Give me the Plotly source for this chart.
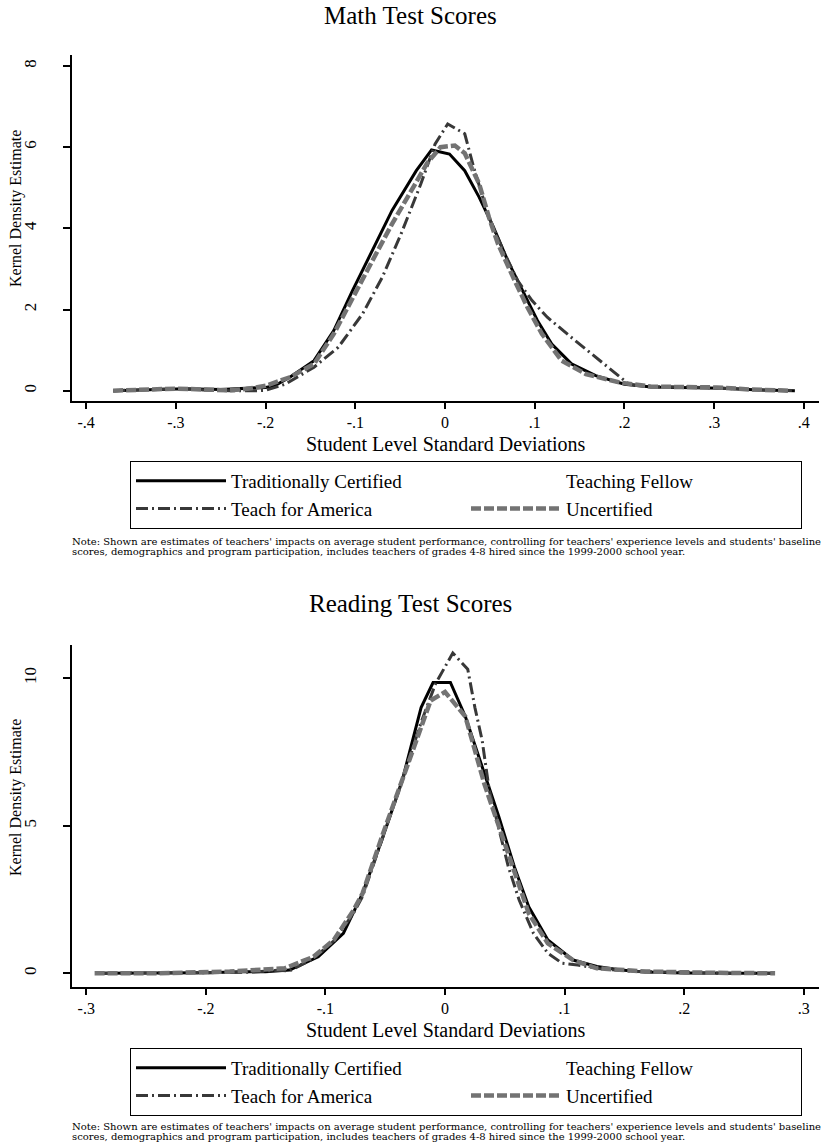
import plotly.graph_objects as go

W, H = 821, 1144
FONT = "Liberation Serif"

# ---------------- data ----------------
series_names = ["Traditionally Certified", "Teaching Fellow", "Teach for America", "Uncertified"]

math_x_trad = [-0.37, -0.33, -0.29, -0.25, -0.22, -0.2, -0.19, -0.173, -0.146, -0.124, -0.103, -0.081, -0.059,
               -0.032, -0.015, 0.005, 0.022, 0.038, 0.054, 0.07, 0.086, 0.103, 0.119, 0.141, 0.168, 0.2, 0.23,
               0.27, 0.31, 0.35, 0.39]
math_y_trad = [0.0, 0.03, 0.05, 0.03, 0.05, 0.08, 0.12, 0.33, 0.74, 1.48, 2.47, 3.45, 4.44,
               5.42, 5.93, 5.83, 5.42, 4.77, 4.03, 3.2, 2.47, 1.73, 1.15, 0.66, 0.37, 0.16, 0.09,
               0.08, 0.06, 0.02, 0.0]

math_x_tfa = [-0.37, -0.33, -0.3, -0.27, -0.24, -0.21, -0.2, -0.178, -0.146, -0.119, -0.092, -0.07, -0.049,
              -0.027, -0.011, 0.003, 0.022, 0.032, 0.049, 0.065, 0.081, 0.097, 0.114, 0.141, 0.168, 0.195,
              0.205, 0.232, 0.27, 0.31, 0.35, 0.39]
math_y_tfa = [0.0, 0.03, 0.05, 0.02, 0.0, 0.0, 0.01, 0.16, 0.58, 1.07, 1.89, 2.79, 3.86,
              5.09, 6.08, 6.57, 6.33, 5.5, 4.27, 3.45, 2.71, 2.22, 1.81, 1.31, 0.82, 0.33,
              0.16, 0.1, 0.09, 0.06, 0.02, 0.0]

math_x_unc = [-0.37, -0.34, -0.3, -0.27, -0.24, -0.222, -0.2, -0.173, -0.146, -0.124, -0.103, -0.081, -0.059,
              -0.038, -0.02, -0.005, 0.011, 0.022, 0.038, 0.049, 0.059, 0.076, 0.092, 0.108, 0.13, 0.157,
              0.195, 0.23, 0.27, 0.303, 0.34, 0.384]
math_y_unc = [0.0, 0.02, 0.05, 0.03, 0.01, 0.04, 0.12, 0.33, 0.66, 1.4, 2.3, 3.2, 4.11,
              4.93, 5.6, 6.0, 6.04, 5.85, 5.1, 4.27, 3.62, 2.79, 2.05, 1.4, 0.74, 0.41,
              0.2, 0.1, 0.09, 0.08, 0.03, 0.0]

read_x_trad = [-0.29, -0.25, -0.2, -0.17, -0.15, -0.13, -0.106, -0.085, -0.069, -0.053, -0.036, -0.02, -0.01,
               0.0045, 0.017, 0.033, 0.045, 0.058, 0.07, 0.086, 0.107, 0.127, 0.147, 0.168, 0.2, 0.24, 0.275]
read_y_trad = [0.0, 0.0, 0.02, 0.05, 0.05, 0.11, 0.56, 1.35, 2.7, 4.5, 6.5, 9.0, 9.85,
               9.85, 8.7, 6.76, 5.3, 3.6, 2.25, 1.13, 0.45, 0.23, 0.11, 0.04, 0.01, 0.0, 0.0]

read_x_tfa = [-0.29, -0.25, -0.2, -0.16, -0.14, -0.13, -0.11, -0.093, -0.077, -0.069, -0.053, -0.036, -0.02,
              -0.008, 0.0065, 0.019, 0.025, 0.031, 0.037, 0.045, 0.053, 0.062, 0.074, 0.086, 0.098, 0.111,
              0.13, 0.16, 0.2, 0.24, 0.275]
read_y_tfa = [0.0, 0.0, 0.02, 0.04, 0.1, 0.08, 0.5, 1.1, 2.0, 2.6, 4.5, 6.5, 8.5,
              9.8, 10.85, 10.3, 9.0, 7.9, 6.2, 4.85, 3.6, 2.48, 1.35, 0.68, 0.34, 0.28,
              0.15, 0.06, 0.02, 0.0, 0.0]

read_x_unc = [-0.293, -0.24, -0.18, -0.15, -0.134, -0.11, -0.093, -0.077, -0.069, -0.053, -0.036, -0.02,
              -0.012, 0.0, 0.017, 0.033, 0.045, 0.058, 0.07, 0.086, 0.107, 0.127, 0.168, 0.22, 0.276]
read_y_unc = [0.0, 0.0, 0.06, 0.11, 0.17, 0.56, 1.13, 2.1, 2.7, 4.6, 6.5, 8.34,
              9.24, 9.53, 8.7, 6.4, 4.96, 3.38, 2.03, 1.01, 0.45, 0.17, 0.06, 0.02, 0.0]

math_xticks = [-0.4, -0.3, -0.2, -0.1, 0, 0.1, 0.2, 0.3, 0.4]
math_xlabels = ["-.4", "-.3", "-.2", "-.1", "0", ".1", ".2", ".3", ".4"]
math_yticks = [0, 2, 4, 6, 8]
read_xticks = [-0.3, -0.2, -0.1, 0, 0.1, 0.2, 0.3]
read_xlabels = ["-.3", "-.2", "-.1", "0", ".1", ".2", ".3"]
read_yticks = [0, 5, 10]

titles = ["Math Test Scores", "Reading Test Scores"]
x_title = "Student Level Standard Deviations"
y_title = "Kernel Density Estimate"
note_lines = [
    "Note: Shown are estimates of teachers' impacts on average student performance, controlling for teachers' "
    "experience levels and students' baseline",
    "scores, demographics and program participation, includes teachers of grades 4-8 hired since the "
    "1999-2000 school year.",
]

# ---------------- styles ----------------
styles = {
    "Traditionally Certified": dict(color="black", width=3, dash="solid"),
    "Teaching Fellow": dict(color="white", width=3, dash="solid"),
    "Teach for America": dict(color="#383838", width=3, dash="12px,4px,2px,4px"),
    "Uncertified": dict(color="#737373", width=4.5, dash="10px,3px"),
}

def px(v):  # pixel x -> paper
    return v / W

def py(v):  # pixel y -> paper
    return 1 - v / H

fig = go.Figure()

panels = [
    dict(xa="x", ya="y", leg="legend",
         data={"Traditionally Certified": (math_x_trad, math_y_trad),
               "Teaching Fellow": ([None], [None]),
               "Teach for America": (math_x_tfa, math_y_tfa),
               "Uncertified": (math_x_unc, math_y_unc)}),
    dict(xa="x2", ya="y2", leg="legend2",
         data={"Traditionally Certified": (read_x_trad, read_y_trad),
               "Teaching Fellow": ([None], [None]),
               "Teach for America": (read_x_tfa, read_y_tfa),
               "Uncertified": (read_x_unc, read_y_unc)}),
]

for p in panels:
    for name in series_names:
        xs, ys = p["data"][name]
        fig.add_trace(go.Scatter(
            x=xs, y=ys, mode="lines", name=name, line=styles[name],
            xaxis=p["xa"], yaxis=p["ya"], legend=p["leg"], showlegend=True,
        ))

tickfont = dict(family=FONT, size=17, color="black")
xtickfont = dict(family=FONT, size=16, color="black")
axis_common = dict(showgrid=False, zeroline=False, showline=True, linecolor="black", linewidth=1.5,
                   ticks="outside", ticklen=7, tickwidth=1.5, tickcolor="black", automargin=False,
                   tickfont=tickfont, mirror=False)

# panel geometry (pixels)
m_left, m_right, m_top, m_bot = 72, 819, 55, 401
r_left, r_right, r_top, r_bot = 72, 819, 645, 987

fig.update_layout(
    width=W, height=H, margin=dict(l=0, r=0, t=0, b=0, autoexpand=False),
    paper_bgcolor="white", plot_bgcolor="white",
    font=dict(family=FONT, color="black"),
    xaxis=dict(axis_common, domain=[px(m_left), px(m_right)], range=[-0.4158, 0.4169],
               tickvals=math_xticks, ticktext=math_xlabels, anchor="y", ticklen=6, tickfont=xtickfont),
    yaxis=dict(axis_common, domain=[py(m_bot), py(m_top)], range=[-0.254, 8.27],
               tickvals=math_yticks, tickangle=-90, ticklabelstandoff=20, anchor="x"),
    xaxis2=dict(axis_common, domain=[px(r_left), px(r_right)], range=[-0.3119, 0.3127],
                tickvals=read_xticks, ticktext=read_xlabels, anchor="y2", ticklen=6, tickfont=xtickfont),
    yaxis2=dict(axis_common, domain=[py(r_bot), py(r_top)], range=[-0.464, 11.12],
                tickvals=read_yticks, tickangle=-90, ticklabelstandoff=20, anchor="x2"),
    showlegend=True,
)

leg_common = dict(orientation="h", xanchor="left", yanchor="top", bordercolor="black", borderwidth=1,
                  bgcolor="white", font=dict(family=FONT, size=19, color="black"),
                  itemwidth=90, entrywidth=230, entrywidthmode="pixels", traceorder="normal",
                  itemclick=False, itemdoubleclick=False)
fig.update_layout(
    legend=dict(leg_common, x=px(130), y=py(461)),
    legend2=dict(leg_common, x=px(130), y=py(1048)),
)

ann = []
for t, yy in zip(titles, [16, 603]):
    ann.append(dict(text=t, x=px(410), y=py(yy), xref="paper", yref="paper", showarrow=False,
                    xanchor="center", yanchor="middle", font=dict(family=FONT, size=25)))
for yy in [444, 1030]:
    ann.append(dict(text=x_title, x=px(446), y=py(yy), xref="paper", yref="paper", showarrow=False,
                    xanchor="center", yanchor="middle", font=dict(family=FONT, size=20)))
for yy in [209, 798]:
    ann.append(dict(text=y_title, x=px(16), y=py(yy), xref="paper", yref="paper", showarrow=False,
                    textangle=-90, xanchor="center", yanchor="middle", font=dict(family=FONT, size=16)))
for top in [535, 1120]:
    for i, line in enumerate(note_lines):
        ann.append(dict(text=line, x=px(71), y=py(top + 10 * i), xref="paper", yref="paper",
                        showarrow=False, xanchor="left", yanchor="top", align="left",
                        borderpad=0, font=dict(family="DejaVu Serif", size=10, color="black")))
fig.update_layout(annotations=ann)

fig.write_html("out.html", config={"displayModeBar": False},
               post_script="document.body.style.margin='0';document.body.style.overflow='hidden';")
